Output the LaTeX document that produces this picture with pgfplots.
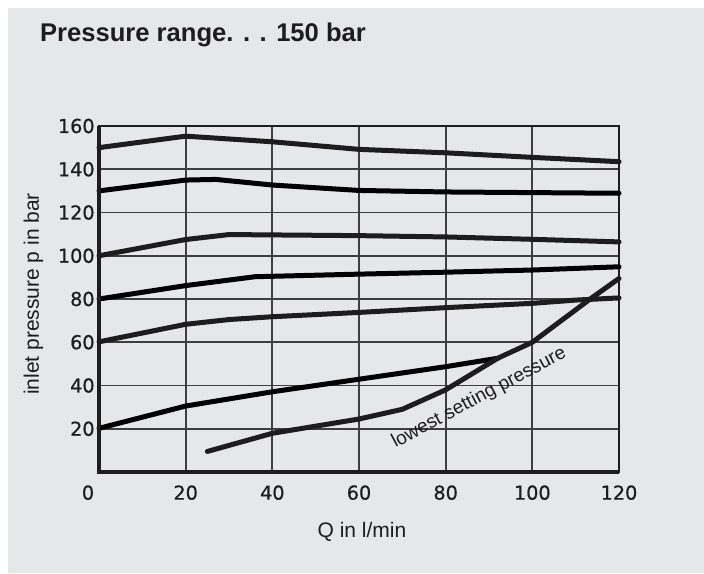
\documentclass[border=0pt]{standalone}
\usepackage{fontspec}
\setmainfont{Liberation Sans}
\newfontfamily\tickfont[FakeBold=0.6]{DejaVu Sans}
\usepackage{pgfplots}
\pgfplotsset{compat=1.18}
\definecolor{bg}{RGB}{230,231,232}
\definecolor{ink}{RGB}{30,28,29}

\begin{document}
\begin{tikzpicture}
\fill[white] (-49.5pt,-50.5pt) rectangle (302.5pt,236pt);
\fill[bg] (-45.5pt,-50.5pt) rectangle (302.5pt,232pt);
\begin{axis}[at={(0,0)}, anchor=south west, scale only axis, width=260pt, height=173pt,
 xmin=0, xmax=120, ymin=0, ymax=160,
 xtick={0,20,...,120}, xticklabels={\hspace*{-11pt}0,20,40,60,80,100,120},
 ytick={20,40,...,160},
 xmajorgrids=true, ymajorgrids=true,
 major grid style={line width=0.9pt, draw=ink!85},
 tick style={draw=none},
 axis line style={line width=1pt, draw=ink},
 ticklabel style={font=\tickfont\fontsize{9.6}{11}\selectfont, text=ink},
 xticklabel style={anchor=north, inner sep=0pt, yshift=-6.5pt},
 yticklabel style={anchor=east, inner sep=0pt, xshift=-2pt},
 /pgf/number format/assume math mode=true,
 cycle list={{draw=ink, mark=none}},
 every axis plot/.append style={line width=2.5pt, line join=round, line cap=round},
 clip=false,
]
\addplot coordinates {(0,150) (20,155.3) (40,152.7) (60,149.2) (80,147.6) (100,145.5) (120,143.5)};
\addplot coordinates {(0,130) (20,135) (27,135.3) (40,132.7) (60,130.2) (80,129.5) (100,129.2) (120,128.9)};
\addplot coordinates {(0,100) (20,107.5) (30,109.8) (60,109.3) (80,108.7) (100,107.6) (120,106.4)};
\addplot coordinates {(0,80) (20,86.2) (36,90.3) (60,91.5) (80,92.4) (100,93.4) (120,94.9)};
\addplot coordinates {(0,60.2) (20,68.3) (30,70.5) (40,71.8) (60,73.8) (80,76) (100,78) (110,79.5) (120,80.5)};
\addplot coordinates {(0,20.2) (20,30.5) (40,37.1) (60,42.9) (80,48.7) (92,52.6)};
\addplot coordinates {(25,9.5) (40,17.9) (60,24.5) (70,29) (80,38) (92,52.6) (100,60) (113,79.5) (120,89.5)};
\draw[line width=1.7pt, ink] (axis cs:0,160) -- (axis cs:0,0) -- (axis cs:120,0);
\node[font=\fontsize{9.5}{11}\selectfont, rotate=28, text=ink] at (axis cs:87.7,34.2) {lowest setting pressure};
\end{axis}
\node[anchor=base west, font=\bfseries\fontsize{12.8}{15}\selectfont, text=ink] at (-33pt,215pt) {Pressure range. . . 150 bar};
\node[anchor=base, font=\fontsize{10.5}{12}\selectfont, text=ink] at (131.5pt,-32.5pt) {Q in l/min};
\node[rotate=90, font=\fontsize{10.5}{12}\selectfont, text=ink] at (-32.75pt,89pt) {inlet pressure p in bar};
\pgfresetboundingbox
\useasboundingbox (-49.5pt,-50.5pt) rectangle (302.5pt,236pt);
\end{tikzpicture}
\end{document}
